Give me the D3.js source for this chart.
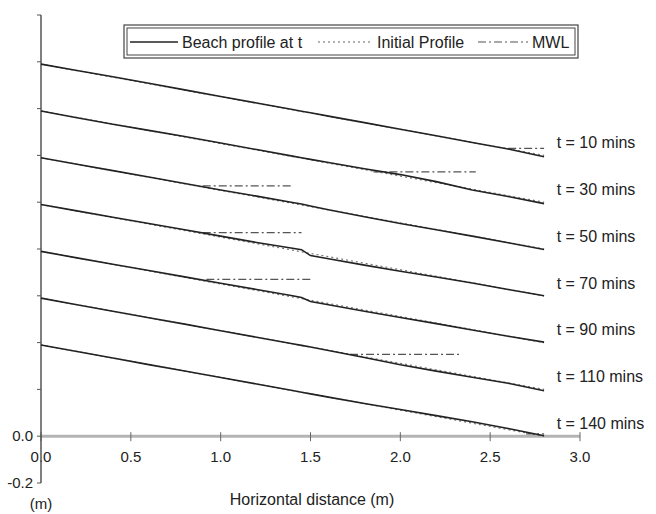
<!DOCTYPE html>
<html><head><meta charset="utf-8">
<script src="https://cdn.jsdelivr.net/npm/d3@7"></script>
<style>
html,body{margin:0;padding:0;background:#fff;}
text{font-family:"Liberation Sans",Arial,sans-serif;fill:#222;}
</style></head>
<body>
<svg id="chart" width="656" height="514"></svg>
<script>
// ---- data ----
const times = ["t = 10 mins","t = 30 mins","t = 50 mins","t = 70 mins","t = 90 mins","t = 110 mins","t = 140 mins"];
const offsets = [1.2, 1.0, 0.8, 0.6, 0.4, 0.2, 0.0];
const xs = [0,0.2,0.4,0.6,0.8,1.0,1.2,1.4,1.45,1.5,1.6,1.8,2.0,2.2,2.4,2.6,2.8];
const prof10  = [0.390,0.363,0.336,0.308,0.280,0.252,0.224,0.196,0.189,0.182,0.168,0.140,0.112,0.084,0.055,0.027,-0.006];
const prof30  = [0.390,0.361,0.333,0.307,0.281,0.253,0.225,0.197,0.190,0.183,0.170,0.143,0.118,0.088,0.052,0.024,-0.006];
const prof50  = [0.390,0.362,0.335,0.308,0.280,0.252,0.226,0.199,0.192,0.184,0.168,0.138,0.109,0.082,0.055,0.027,-0.002];
const prof70  = [0.390,0.363,0.336,0.309,0.282,0.255,0.228,0.203,0.197,0.172,0.158,0.131,0.105,0.080,0.055,0.027,0.000];
const prof90  = [0.390,0.362,0.335,0.308,0.281,0.254,0.227,0.200,0.193,0.176,0.162,0.134,0.107,0.081,0.054,0.027,0.002];
const prof110 = [0.390,0.362,0.334,0.306,0.279,0.251,0.223,0.195,0.188,0.181,0.166,0.136,0.105,0.078,0.052,0.026,-0.006];
const prof140 = [0.390,0.362,0.334,0.306,0.279,0.251,0.223,0.195,0.188,0.181,0.167,0.140,0.114,0.088,0.062,0.033,0.002];
const profiles = [prof10, prof30, prof50, prof70, prof90, prof110, prof140];
const initX = [0, 2.8];
const initZ = [0.39, 0.0];
const mwlLevel = [0.03, 0.13, 0.27, 0.27, 0.27, 0.15, 0.01];
const mwlStart = [2.60, 1.85, 0.90, 0.90, 0.92, 1.72, 2.70];
const mwlEnd   = [2.80, 2.42, 1.40, 1.45, 1.50, 2.33, 2.80];
const xTicks = [0, 0.5, 1.0, 1.5, 2.0, 2.5, 3.0];
const yTicks = [-0.2,0,0.2,0.4,0.6,0.8,1.0,1.2,1.4,1.6,1.8];
const yLabels = [-0.2, 0.0];
const legendItems = ["Beach profile at t", "Initial Profile", "MWL"];

// ---- drawing ----
const svg = d3.select("#chart");
const x = d3.scaleLinear().domain([0,3]).range([41,580]);
const y = d3.scaleLinear().domain([-0.2,1.8]).range([483,15]);
const line = d3.line().x(d=>x(d[0])).y(d=>y(d[1]));

// x axis (thick gray)
svg.append("line").attr("x1",x(0)).attr("x2",x(3)).attr("y1",y(0)).attr("y2",y(0))
  .attr("stroke","#b4b4b4").attr("stroke-width",3);
svg.selectAll(".xt").data(xTicks).enter().append("line")
  .attr("x1",d=>x(d)).attr("x2",d=>x(d)).attr("y1",y(0)-4).attr("y2",y(0)+5)
  .attr("stroke","#666").attr("stroke-width",1);
svg.selectAll(".xl").data(xTicks).enter().append("text")
  .attr("x",d=>x(d)).attr("y",y(0)+26).attr("text-anchor","middle")
  .attr("font-size",15).text(d=>d.toFixed(1));

// y axis
svg.append("line").attr("x1",x(0)).attr("x2",x(0)).attr("y1",y(1.8)).attr("y2",y(-0.2))
  .attr("stroke","#555").attr("stroke-width",1.5);
svg.selectAll(".yt").data(yTicks).enter().append("line")
  .attr("x1",x(0)-4).attr("x2",x(0)).attr("y1",d=>y(d)).attr("y2",d=>y(d))
  .attr("stroke","#555").attr("stroke-width",1);
svg.selectAll(".yl").data(yLabels).enter().append("text")
  .attr("x",x(0)-8).attr("y",d=>y(d)).attr("dy","0.35em").attr("text-anchor","end")
  .attr("font-size",15).text(d=>d.toFixed(1));
svg.append("text").attr("x",x(0)).attr("y",509).attr("text-anchor","middle")
  .attr("font-size",15).text("(m)");
svg.append("text").attr("x",312).attr("y",505).attr("text-anchor","middle")
  .attr("font-size",16).text("Horizontal distance (m)");

// profiles
profiles.forEach((p,i)=>{
  const off = offsets[i];
  // initial profile (dotted)
  svg.append("path").attr("d", line(initX.map((xx,j)=>[xx, initZ[j]+off])))
    .attr("fill","none").attr("stroke","#777").attr("stroke-width",1.2).attr("stroke-dasharray","2,3");
  // MWL (dash-dot)
  svg.append("path").attr("d", line([[mwlStart[i], mwlLevel[i]+off],[mwlEnd[i], mwlLevel[i]+off]]))
    .attr("fill","none").attr("stroke","#555").attr("stroke-width",1.2).attr("stroke-dasharray","8,3,2,3");
  // beach profile at t (solid)
  svg.append("path").attr("d", line(xs.map((xx,j)=>[xx, p[j]+off])))
    .attr("fill","none").attr("stroke","#222").attr("stroke-width",1.6);
  // label
  svg.append("text").attr("x",x(2.87)).attr("y",y(off+0.055)).attr("dy","0.35em")
    .attr("font-size",16).text(times[i]);
});

// legend
const lg = svg.append("g");
lg.append("rect").attr("x",124).attr("y",25).attr("width",454).attr("height",33)
  .attr("fill","#fff").attr("stroke","#444").attr("stroke-width",1.2);
lg.append("rect").attr("x",127).attr("y",28).attr("width",448).attr("height",27)
  .attr("fill","none").attr("stroke","#444").attr("stroke-width",1);
const ly = 42;
lg.append("line").attr("x1",130).attr("x2",178).attr("y1",ly).attr("y2",ly).attr("stroke","#222").attr("stroke-width",1.4);
lg.append("text").attr("x",182).attr("y",ly).attr("dy","0.35em").attr("font-size",16).text(legendItems[0]);
lg.append("line").attr("x1",318).attr("x2",372).attr("y1",ly).attr("y2",ly).attr("stroke","#666").attr("stroke-width",1.2).attr("stroke-dasharray","2,3");
lg.append("text").attr("x",377).attr("y",ly).attr("dy","0.35em").attr("font-size",16).text(legendItems[1]);
lg.append("line").attr("x1",478).attr("x2",528).attr("y1",ly).attr("y2",ly).attr("stroke","#555").attr("stroke-width",1.2).attr("stroke-dasharray","8,3,2,3");
lg.append("text").attr("x",532).attr("y",ly).attr("dy","0.35em").attr("font-size",16).text(legendItems[2]);
</script>
</body></html>
